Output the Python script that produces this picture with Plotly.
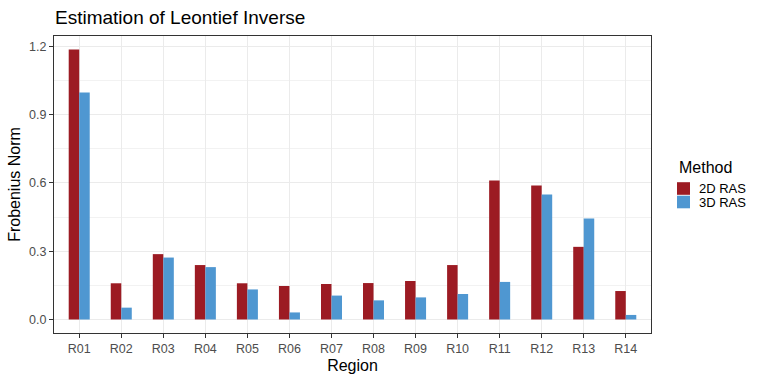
import plotly.graph_objects as go

regions = ["R01", "R02", "R03", "R04", "R05", "R06", "R07", "R08", "R09", "R10", "R11", "R12", "R13", "R14"]
ras_2d = [1.185, 0.159, 0.287, 0.239, 0.159, 0.147, 0.156, 0.160, 0.169, 0.239, 0.610, 0.588, 0.319, 0.125]
ras_3d = [0.997, 0.052, 0.272, 0.230, 0.132, 0.031, 0.105, 0.084, 0.097, 0.112, 0.165, 0.549, 0.443, 0.020]
y_ticks = [0.0, 0.3, 0.6, 0.9, 1.2]
methods = ["2D RAS", "3D RAS"]
colors = ["#9C1B23", "#4F97D1"]

FONT = "Liberation Sans, Arial, Helvetica, sans-serif"
W, H = 763, 382
L, R, T, B = 54, 112, 36, 49
PW, PH = W - L - R, H - T - B


def px(x):
    return (x - L) / PW


def py(y):
    return (H - B - y) / PH


fig = go.Figure()
for name, vals, col in zip(methods, [ras_2d, ras_3d], colors):
    fig.add_trace(go.Bar(x=regions, y=vals, name=name, showlegend=False,
                         marker=dict(color=col, line=dict(width=0))))

# manual legend (ggplot style)
annotations = [dict(text="Method", x=px(677), y=py(167), xref="paper", yref="paper",
                    xanchor="left", yanchor="middle", showarrow=False,
                    font=dict(size=16, color="#000000"))]
shapes = []
for i, (name, col) in enumerate(zip(methods, colors)):
    yc = 188.5 + i * 13.5
    shapes.append(dict(type="rect", xref="paper", yref="paper",
                       x0=px(677), x1=px(690), y0=py(yc - 6.3), y1=py(yc + 6.3),
                       fillcolor=col, line=dict(width=0)))
    annotations.append(dict(text=name, x=px(697), y=py(yc), xref="paper", yref="paper",
                            xanchor="left", yanchor="middle", showarrow=False,
                            font=dict(size=13, color="#000000")))

fig.update_layout(
    width=W, height=H,
    margin=dict(l=L, r=R, t=T, b=B, autoexpand=False),
    paper_bgcolor="white", plot_bgcolor="white",
    barmode="group", bargap=0.5, bargroupgap=0,
    font=dict(family=FONT, color="#000000"),
    title=dict(text="Estimation of Leontief Inverse", x=55/W, xanchor="left",
               xref="container", y=1-17/H, yref="container", yanchor="middle",
               font=dict(size=19, color="#000000")),
    showlegend=False,
    annotations=annotations,
    shapes=shapes,
)
fig.update_xaxes(
    type="category", range=[-0.6, 13.6],
    showgrid=True, gridcolor="#EBEBEB", gridwidth=1.1,
    showline=True, linecolor="#333333", linewidth=1.1, mirror=True,
    ticks="outside", ticklen=4, tickcolor="#333333", tickwidth=1.1,
    tickfont=dict(size=12.5, color="#4D4D4D"),
    title=dict(text="Region", font=dict(size=16, color="#000000"), standoff=4),
    zeroline=False,
)
fig.update_yaxes(
    range=[-0.0593, 1.2448],
    tickvals=y_ticks, tickformat=".1f",
    showgrid=True, gridcolor="#EBEBEB", gridwidth=1.1,
    minor=dict(dtick=0.15, tick0=0, showgrid=True, gridcolor="#F2F2F2", gridwidth=0.6),
    showline=True, linecolor="#333333", linewidth=1.1, mirror=True,
    ticks="outside", ticklen=4, tickcolor="#333333", tickwidth=1.1,
    tickfont=dict(size=12.5, color="#4D4D4D"),
    title=dict(text="Frobenius Norm", font=dict(size=16, color="#000000"), standoff=4),
    zeroline=False,
)

fig.write_html("out.html", config={"displayModeBar": False},
               post_script="document.body.style.margin='0';")
